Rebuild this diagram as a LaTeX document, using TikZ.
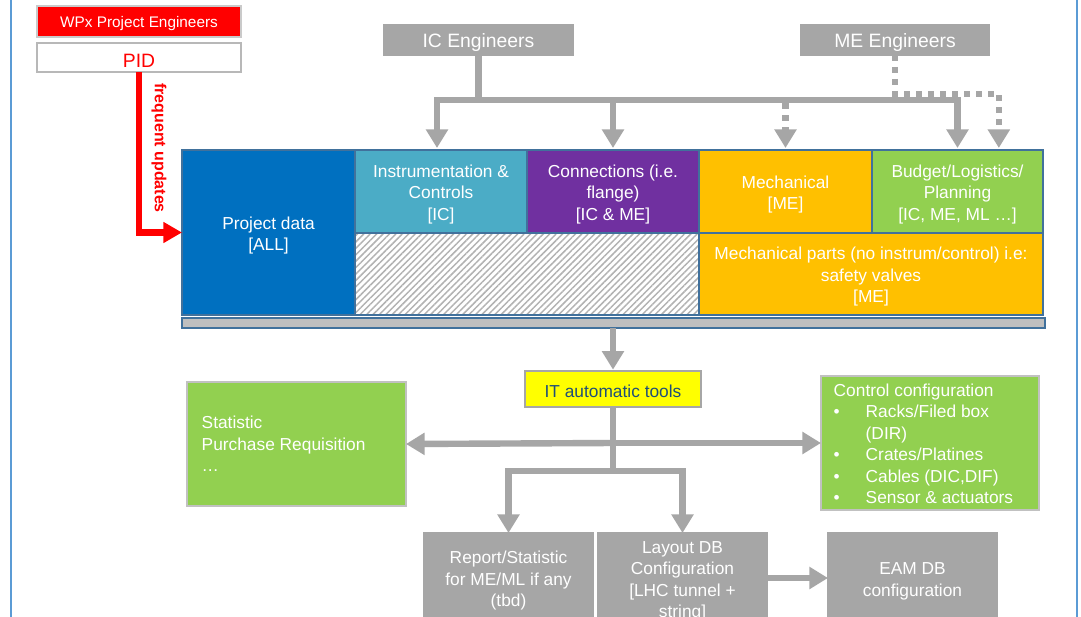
\documentclass[tikz,border=0pt]{standalone}
\usepackage{fontspec}
\setmainfont{Liberation Sans}
\usetikzlibrary{arrows.meta,patterns.meta}
\definecolor{pblue}{HTML}{0070C0}
\definecolor{pteal}{HTML}{4BACC6}
\definecolor{ppurple}{HTML}{7030A0}
\definecolor{porange}{HTML}{FFC000}
\definecolor{pgreen}{HTML}{92D050}
\definecolor{pgray}{HTML}{A6A6A6}
\definecolor{pbar}{HTML}{BFBFBF}
\definecolor{pedge}{HTML}{41719C}
\definecolor{pred}{HTML}{FF0000}
\definecolor{pframe}{HTML}{5B9BD5}
\definecolor{ptext}{HTML}{1F4E79}
\definecolor{pyellow}{HTML}{FFFF00}
% a named rectangle node spanning two corners given in pixel units
\newcommand\spanbox[7][]{%
  \node[#1, minimum width={(#5-#3)*0.75pt}, minimum height={(#6-#4)*0.75pt}]
    (#2) at ({(#3+#5)/2},{(#4+#6)/2}) {#7};}
% taller first line, so that a text block sits a little lower in its box
\newcommand\lft{\rule{0pt}{1.05em}}
\begin{document}
\begin{tikzpicture}[x=0.75pt,y=-0.75pt,
  txt/.style={font=\fontsize{13}{16.1}\selectfont, text=white, align=center},
  lift/.style={execute at begin node={\rule{0pt}{1em}}},
  area/.style={inner sep=0pt, outer sep=0pt, line width=0.8pt},
  tbox/.style={area, txt},
  blk/.style={area, draw=pedge},
  tblk/.style={tbox, draw=pedge},
  graybox/.style={tbox, fill=pgray, draw=pgray},
  greenbox/.style={area, fill=pgreen, draw=pgray!70},
  conn/.style={draw=pgray, line width=4.8pt},
  arr/.style={conn, -{Triangle[length=14pt,width=16pt]}},
  dotconn/.style={conn, dash pattern=on 4.5pt off 4.5pt},
  dotarr/.style={dotconn, -{Triangle[length=14pt,width=16pt]}},
  redarr/.style={draw=pred, line width=4.8pt, -{Triangle[length=14pt,width=15pt]}},
]
\useasboundingbox (0,0) rectangle (1081,617);
\clip (0,0) rectangle (1081,617);
\fill[white] (0,0) rectangle (1081,617);

% frame edges
\draw[pframe, line width=1.4pt] (11,0) -- (11,617);
\draw[pframe, line width=1.4pt] (1077,0) -- (1077,617);

% project engineers and PID
\spanbox[tbox, lift, fill=pred, draw=pgray!60, font=\fontsize{11.5}{14}\selectfont]{wpx}{37}{6}{241}{37}{WPx Project Engineers}
\spanbox[tbox, lift, fill=white, draw=pgray!80, text=pred, font=\fontsize{14.5}{17}\selectfont]{pid}{37}{43}{241}{72}{PID}

% engineer groups
\spanbox[graybox, lift, font=\fontsize{14.5}{17}\selectfont]{ic}{384}{25}{573}{55}{IC Engineers}
\spanbox[graybox, lift, font=\fontsize{14.5}{17}\selectfont]{me}{801}{25}{989}{55}{ME Engineers}

% project data blocks
\spanbox[tblk, fill=pblue]{proj}{182}{150}{355}{315}{\lft Project data\\{[ALL]}}
\spanbox[tblk, fill=pteal]{instr}{355}{150}{527}{233}{\lft Instrumentation \&\\Controls\\{[IC]}}
\spanbox[tblk, fill=ppurple]{cnx}{527}{150}{699}{233}{\lft Connections (i.e.\\flange)\\{[IC \& ME]}}
\spanbox[tblk, fill=porange]{mech}{699}{150}{872}{233}{\lft Mechanical\\{[ME]}}
\spanbox[tblk, fill=pgreen]{budget}{872}{150}{1043}{233}{\lft Budget/Logistics/\\Planning\\{[IC, ME, ML …]}}
\spanbox[blk, fill=white, pattern={Lines[angle=45,distance=3.4pt,line width=1.1pt]}, pattern color=gray!60]{hatch}{355}{233}{699}{315}{}
\spanbox[tblk, fill=porange]{parts}{699}{233}{1043}{315}{\lft Mechanical parts (no instrum/control) i.e:\\safety valves\\{[ME]}}
\spanbox[blk, fill=pbar]{bar}{182}{318}{1045}{328}{}

% tools and outputs
\spanbox[tbox, lift, fill=pyellow, draw=pgray, text=ptext]{it}{525}{371}{701}{407}{IT automatic tools}
\spanbox[greenbox]{stat}{187}{382}{406}{506}{}
\node[txt, anchor=west, align=left] (stattxt) at (197,444) {Statistic\\Purchase Requisition\\…};
\spanbox[greenbox]{ctrl}{821}{376}{1039}{510}{}
\node[txt, anchor=north west, align=left] (ctrltxt) at (829,379) {Control configuration\\
\makebox[24pt][l]{\textbullet}Racks/Filed box\\
\hspace*{24pt}(DIR)\\
\makebox[24pt][l]{\textbullet}Crates/Platines\\
\makebox[24pt][l]{\textbullet}Cables (DIC,DIF)\\
\makebox[24pt][l]{\textbullet}Sensor \& actuators};
\spanbox[graybox]{report}{424}{533}{593}{623}{\lft Report/Statistic\\for ME/ML if any\\(tbd)}
\spanbox[graybox]{layout}{598}{533}{767}{623}{\lft Layout DB\\Configuration\\{[LHC tunnel +}\\string]}
\spanbox[graybox]{eam}{828}{533}{997}{623}{\lft EAM DB\\configuration}

% PID feed
\coordinate (redturn) at (pid.south |- proj.west);
\draw[redarr] (pid.south) -- (redturn) -- (proj.west);
\node[rotate=-90, text=pred, font=\bfseries\fontsize{12}{14}\selectfont] (upd) at (159,148) {frequent updates};

% IC engineers distribution
\coordinate (icbus) at (ic.south |- 0,100);
\draw[conn] (ic.south) -- (icbus);
\draw[arr, shorten >=1.5pt] (icbus) -| ([xshift=-3pt]instr.north);
\draw[arr, shorten >=1.5pt] (icbus) -| (cnx.north);
\draw[arr, shorten >=1.5pt] (icbus) -| (budget.north);
\coordinate (mechtap) at (mech.north |- icbus);
\draw[dotarr, shorten >=1.5pt] ([yshift=-2.5pt]mechtap) -- (mech.north);

% ME engineers distribution
\coordinate (mebus) at (me.south |- 0,94);
\coordinate (budgetme) at ([xshift=31pt]budget.north);
\draw[dotconn] (me.south) -- (mebus) -| ([yshift=9pt]budgetme);
\draw[dotarr, shorten >=1.5pt] ([yshift=12pt]budgetme) -- (budgetme);

% automatic tools
\draw[arr, shorten >=1pt] (bar.south -| it.north) -- (it.north);
\coordinate (midbus) at (it.south |- 0,443);
\coordinate (lowbus) at (it.south |- 0,471);
\draw[conn] (it.south) -- (lowbus);
\draw[arr] (midbus) -- (stat.east);
\draw[arr] (midbus) -- (ctrl.west);
\draw[arr] ([xshift=2.4pt]lowbus) -| (report.north);
\draw[arr] ([xshift=-2.4pt]lowbus) -| (layout.north);
\draw[arr] (layout.east |- 0,578) -- (eam.west |- 0,578);
\end{tikzpicture}
\end{document}
